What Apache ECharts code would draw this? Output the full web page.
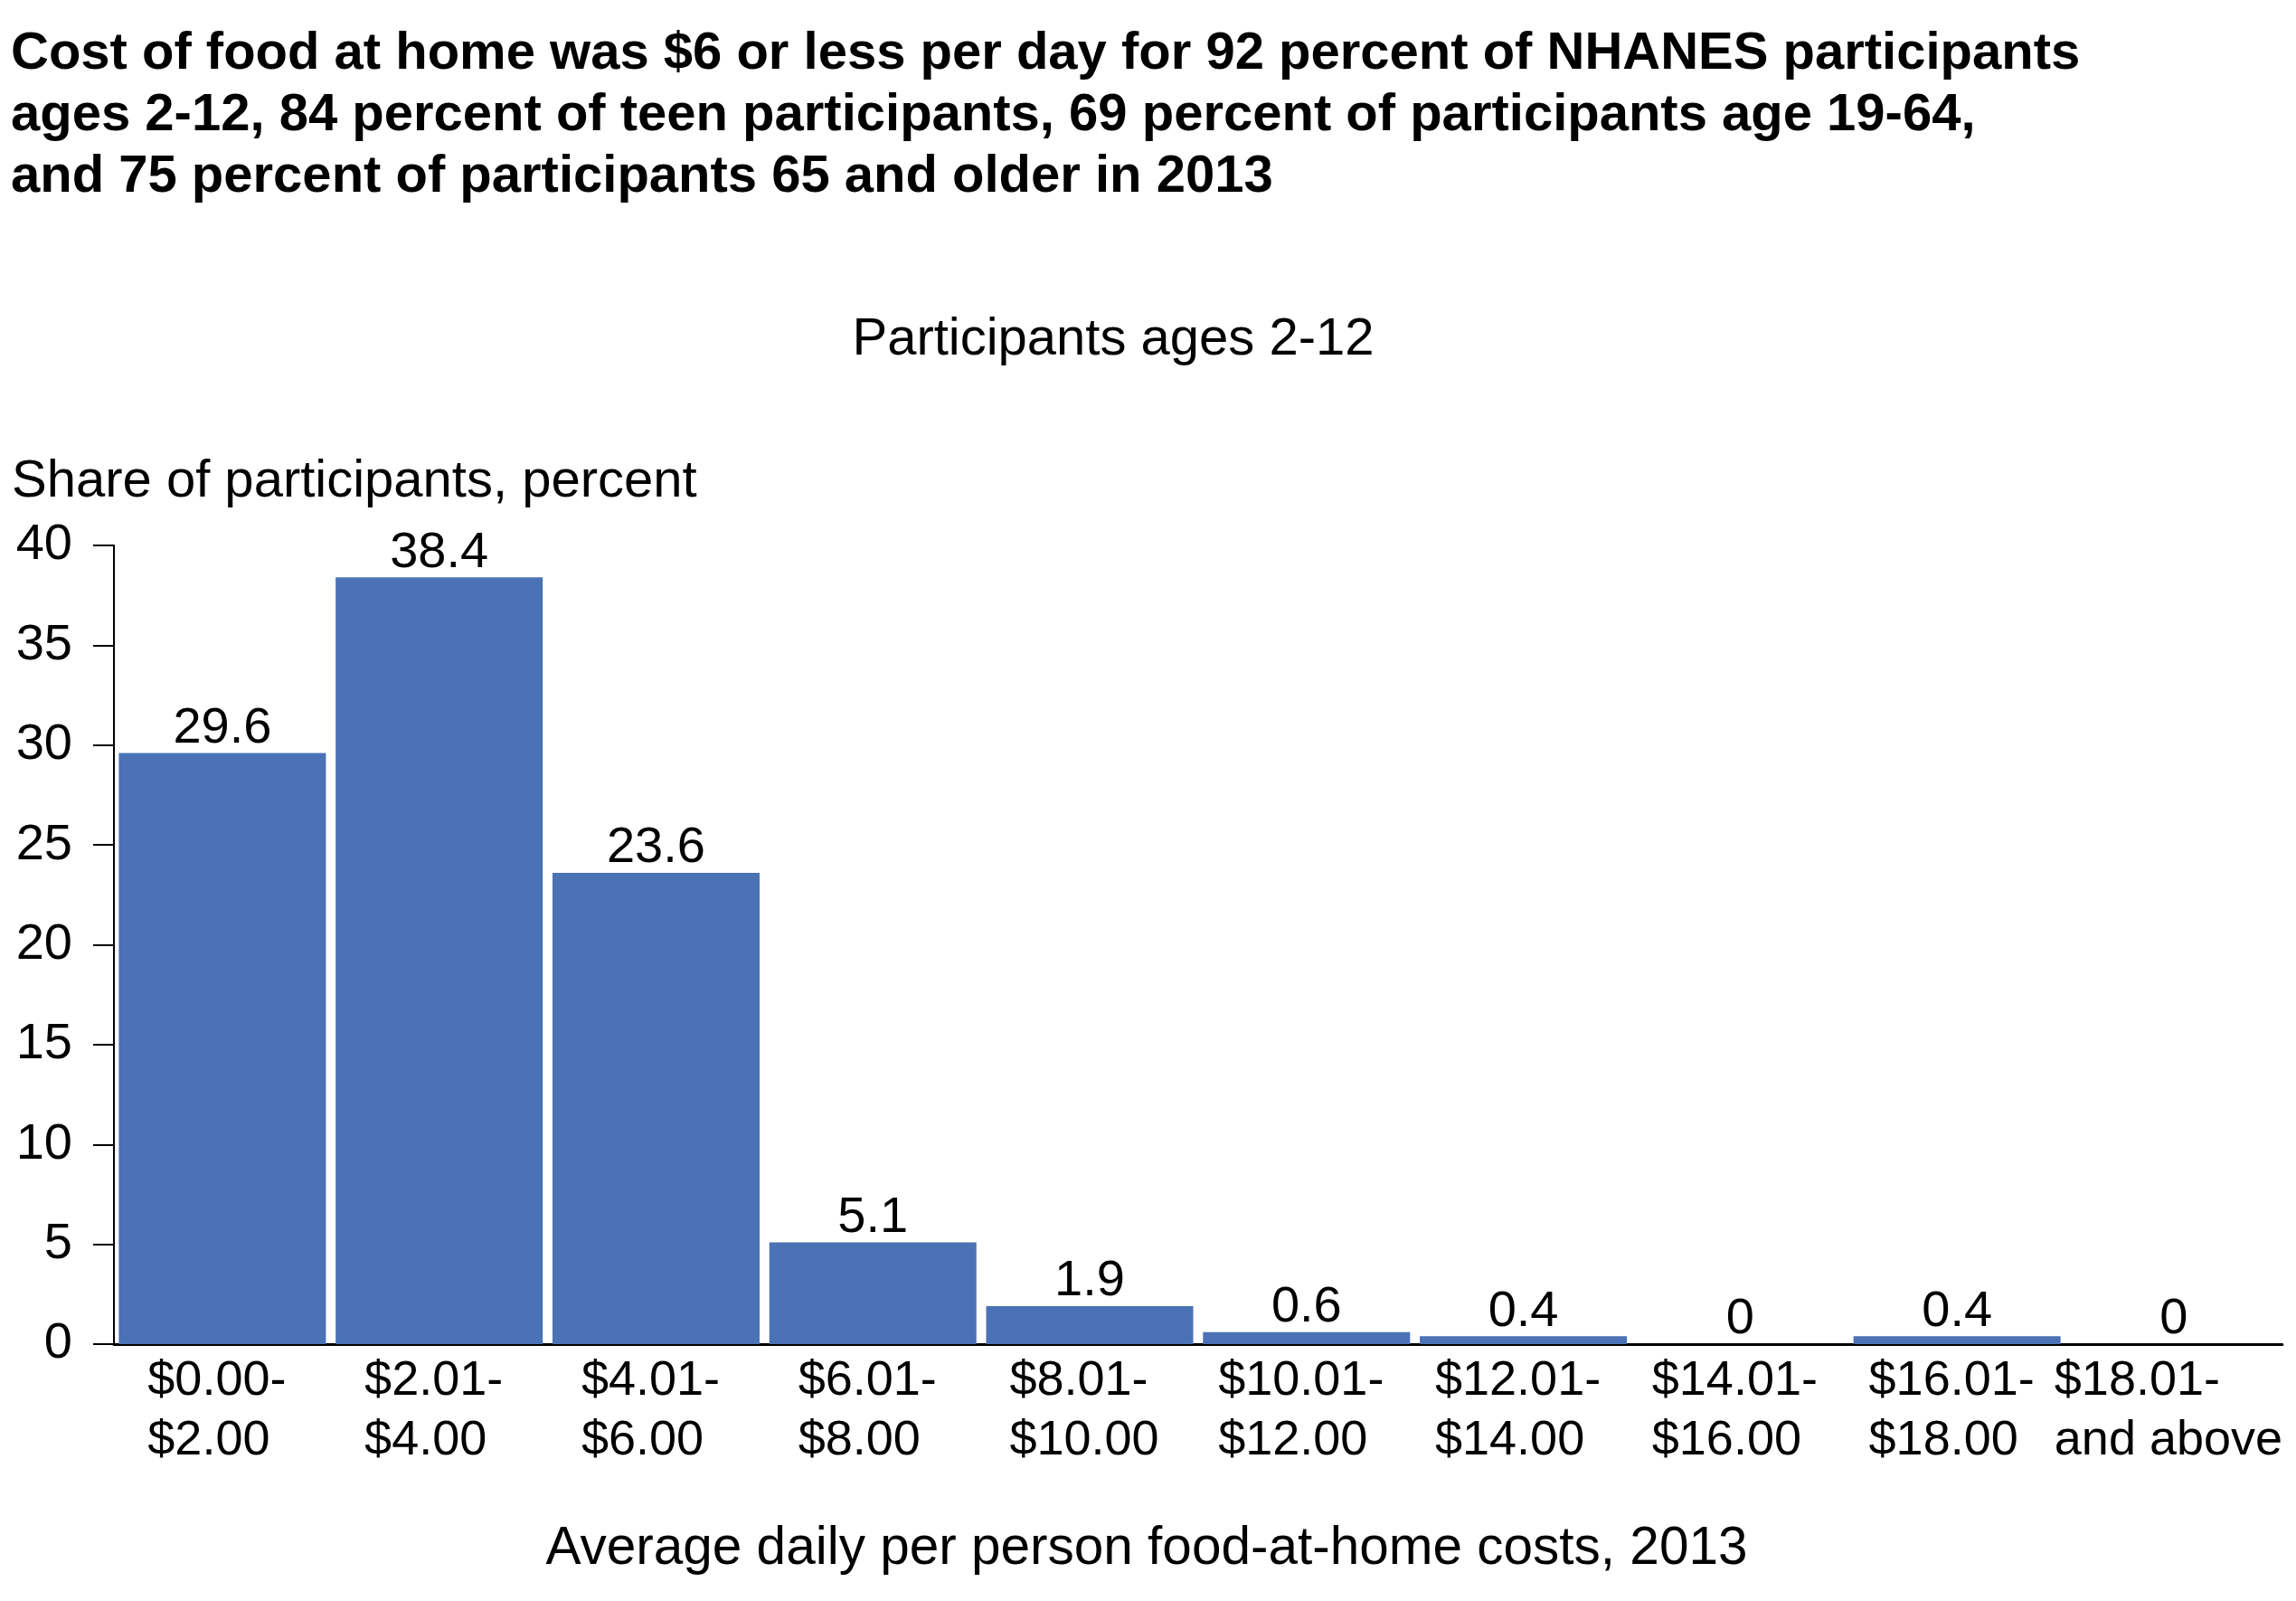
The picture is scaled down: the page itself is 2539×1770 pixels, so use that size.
<!DOCTYPE html>
<html>
<head>
<meta charset="utf-8">
<script src="https://cdn.jsdelivr.net/npm/echarts@6/dist/echarts.min.js"></script>
<style>
html,body{margin:0;padding:0;background:#fff;}
#chart{width:2539px;height:1770px;}
</style>
</head>
<body>
<div id="chart"></div>
<script>
const titleText = 'Cost of food at home was $6 or less per day for 92 percent of NHANES participants\nages 2-12, 84 percent of teen participants, 69 percent of participants age 19-64,\nand 75 percent of participants 65 and older in 2013';
const subtitleText = 'Participants ages 2-12';
const yAxisTitle = 'Share of participants, percent';
const xAxisTitle = 'Average daily per person food-at-home costs, 2013';
const categories = ['$0.00-\n$2.00', '$2.01-\n$4.00', '$4.01-\n$6.00', '$6.01-\n$8.00', '$8.01-\n$10.00',
  '$10.01-\n$12.00', '$12.01-\n$14.00', '$14.01-\n$16.00', '$16.01-\n$18.00', '$18.01-\nand above'];
const values = [29.6, 38.4, 23.6, 5.1, 1.9, 0.6, 0.4, 0, 0.4, 0];
const yMin = 0, yMax = 40, yInterval = 5;

const FONT = '"Liberation Sans", Arial, Helvetica, sans-serif';
const chart = echarts.init(document.getElementById('chart'), null, {renderer: 'canvas'});
chart.setOption({
  animation: false,
  backgroundColor: '#ffffff',
  title: [
    {text: titleText, left: 12, top: 26, padding: 0,
     textStyle: {fontFamily: FONT, fontSize: 58, fontWeight: 'bold', color: '#000', lineHeight: 68}},
    {text: subtitleText, left: 1231, top: 347, padding: 0, textAlign: 'center',
     textStyle: {fontFamily: FONT, fontSize: 58, fontWeight: 'normal', color: '#000', lineHeight: 58}},
    {text: yAxisTitle, left: 13, top: 504, padding: 0,
     textStyle: {fontFamily: FONT, fontSize: 58, fontWeight: 'normal', color: '#000', lineHeight: 58}},
    {text: xAxisTitle, left: 1268, top: 1684, padding: 0, textAlign: 'center',
     textStyle: {fontFamily: FONT, fontSize: 58.5, fontWeight: 'normal', color: '#000', lineHeight: 58}}
  ],
  grid: {left: 126, right: 14, top: 603, bottom: 284, containLabel: false},
  xAxis: {
    type: 'category',
    data: categories,
    axisLine: {show: true, lineStyle: {color: '#000', width: 3}},
    axisTick: {show: false},
    axisLabel: {
      interval: 0, margin: 8, color: '#000', fontFamily: FONT, fontSize: 54, lineHeight: 66,
      padding: [0, 12, 0, 0],
      formatter: function (v) {
        return v.split('\n').map(function (s) { return '{l|' + s + '}'; }).join('\n');
      },
      rich: {l: {align: 'left', fontFamily: FONT, fontSize: 54, lineHeight: 66, color: '#000'}}
    }
  },
  yAxis: {
    type: 'value',
    min: yMin, max: yMax, interval: yInterval,
    axisLine: {show: true, lineStyle: {color: '#000', width: 2}},
    axisTick: {show: true, inside: false, length: 23, lineStyle: {color: '#000', width: 2}},
    splitLine: {show: false},
    axisLabel: {margin: 46, color: '#000', fontFamily: FONT, fontSize: 56}
  },
  series: [{
    type: 'bar',
    data: values,
    barCategoryGap: '4.5%',
    itemStyle: {color: '#4A72B5'},
    label: {show: true, position: 'top', distance: -1, color: '#000', fontFamily: FONT, fontSize: 56}
  }]
});
</script>
</body>
</html>
